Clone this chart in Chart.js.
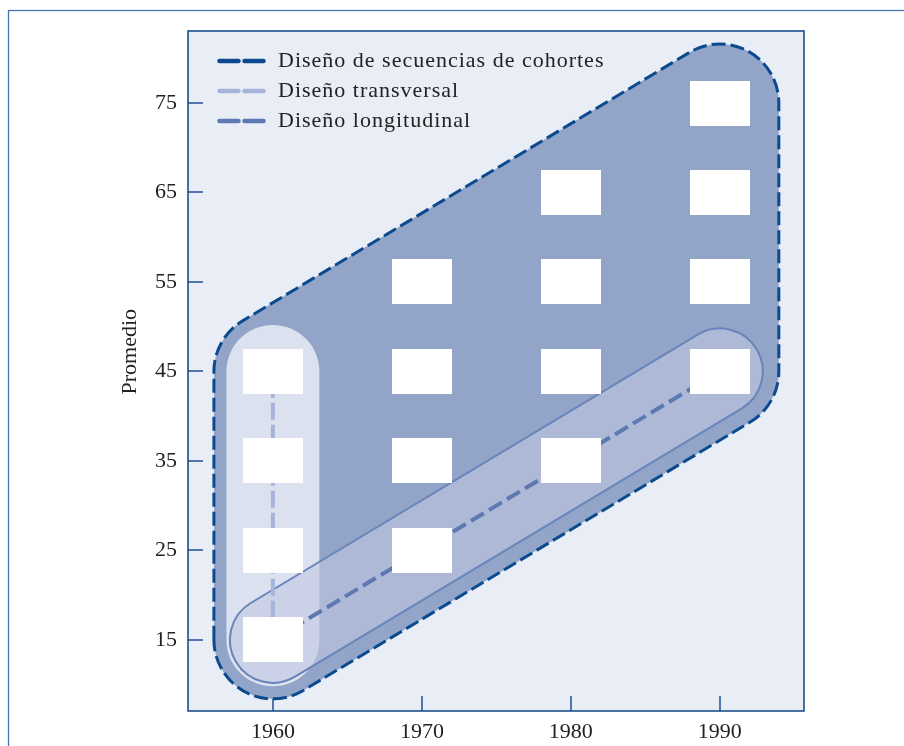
<!DOCTYPE html>
<html>
<head>
<meta charset="utf-8">
<script src="https://cdn.jsdelivr.net/npm/chart.js@4.4.0/dist/chart.umd.min.js"></script>
<style>
  html, body { margin: 0; padding: 0; background: #fff; }
</style>
</head>
<body>
<canvas id="cohortChart" width="904" height="746"></canvas>
<script>
// Datos del gráfico
const years = [1960, 1970, 1980, 1990];
const ageTicks = [15, 25, 35, 45, 55, 65, 75];
// edades medidas en cada año de medición (una fila por año)
const agesByYear = [
  [15, 25, 35, 45],
  [25, 35, 45, 55],
  [35, 45, 55, 65],
  [45, 55, 65, 75]
];
const designNames = ['Diseño de secuencias de cohortes', 'Diseño transversal', 'Diseño longitudinal'];
// esquinas (año, edad) de cada diseño
const sequenceCorners = [[1960, 15], [1960, 45], [1990, 75], [1990, 45]];
const transversalPoints = [[1960, 15], [1960, 45]];
const longitudinalPoints = [[1960, 15], [1990, 45]];

// Estilos
const serif = 'Liberation Serif';
const designColors = ['#0b4a8e', '#a7b4d8', '#5c79b2'];

const squares = [];
years.forEach((yr, i) => agesByYear[i].forEach(a => squares.push({ x: yr, y: a })));

// cuadro blanco para cada medición
const box = document.createElement('canvas');
box.width = 60;
box.height = 45;
const bctx = box.getContext('2d');
bctx.fillStyle = '#ffffff';
bctx.fillRect(0, 0, 60, 45);

// contorno redondeado alrededor de un polígono convexo (sentido horario en pantalla)
function roundedZone(ctx, pts, r) {
  const n = pts.length;
  const normals = [];
  for (let i = 0; i < n; i++) {
    const a = pts[i], b = pts[(i + 1) % n];
    const dx = b[0] - a[0], dy = b[1] - a[1];
    const len = Math.hypot(dx, dy);
    normals.push([dy / len, -dx / len]);
  }
  ctx.beginPath();
  for (let i = 0; i < n; i++) {
    const a = pts[i], b = pts[(i + 1) % n];
    const nm = normals[i], next = normals[(i + 1) % n];
    if (i === 0) ctx.moveTo(a[0] + nm[0] * r, a[1] + nm[1] * r);
    ctx.lineTo(b[0] + nm[0] * r, b[1] + nm[1] * r);
    const a0 = Math.atan2(nm[1], nm[0]);
    let a1 = Math.atan2(next[1], next[0]);
    while (a1 <= a0) a1 += 2 * Math.PI;
    ctx.arc(b[0], b[1], r, a0, a1);
  }
  ctx.closePath();
}

const zonesPlugin = {
  id: 'zones',
  beforeDraw(chart) {
    const { ctx, chartArea: ca } = chart;
    ctx.save();
    ctx.fillStyle = '#ffffff';
    ctx.fillRect(0, 0, chart.width, chart.height);
    ctx.strokeStyle = '#4376ab';
    ctx.lineWidth = 1.3;
    ctx.strokeRect(8.5, 10.5, 1200, 1200);
    ctx.fillStyle = '#e9eef6';
    ctx.fillRect(ca.left, ca.top, ca.right - ca.left, ca.bottom - ca.top);
    ctx.restore();
  },
  beforeDatasetsDraw(chart) {
    const { ctx, scales: { x, y } } = chart;
    const px = pts => pts.map(p => [x.getPixelForValue(p[0]), y.getPixelForValue(p[1])]);
    ctx.save();
    // diseño de secuencias de cohortes
    roundedZone(ctx, px(sequenceCorners), 59);
    ctx.fillStyle = '#92a5c9';
    ctx.fill();
    ctx.setLineDash([14, 5]);
    ctx.lineWidth = 3;
    ctx.strokeStyle = designColors[0];
    ctx.stroke();
    ctx.setLineDash([]);
    // diseño transversal
    roundedZone(ctx, px(transversalPoints), 46.5);
    ctx.fillStyle = '#dbe1ee';
    ctx.fill();
    // diseño longitudinal
    roundedZone(ctx, px(longitudinalPoints), 43);
    ctx.fillStyle = 'rgba(192, 198, 225, 0.6)';
    ctx.fill();
    ctx.lineWidth = 2;
    ctx.strokeStyle = '#6884ba';
    ctx.stroke();
    ctx.restore();
  },
  afterDraw(chart) {
    const { ctx, chartArea: ca } = chart;
    ctx.save();
    ctx.strokeStyle = '#1d4f8c';
    ctx.lineWidth = 1.6;
    ctx.strokeRect(ca.left, ca.top, ca.right - ca.left, ca.bottom - ca.top);
    // leyenda
    ctx.font = '22px "' + serif + '"';
    ctx.letterSpacing = '1px';
    ctx.textBaseline = 'middle';
    ctx.fillStyle = '#222';
    designNames.forEach((name, i) => {
      const yy = ca.top + 30 + i * 30;
      ctx.beginPath();
      ctx.setLineDash([19, 6]);
      ctx.lineCap = 'round';
      ctx.lineWidth = 4.5;
      ctx.strokeStyle = designColors[i];
      ctx.moveTo(ca.left + 31.5, yy);
      ctx.lineTo(ca.left + 75.5, yy);
      ctx.stroke();
      ctx.setLineDash([]);
      ctx.fillText(name, ca.left + 90, yy);
    });
    ctx.restore();
  }
};

const axisFont = { family: serif, size: 22 };

new Chart(document.getElementById('cohortChart'), {
  type: 'scatter',
  data: {
    datasets: [
      {
        label: 'Mediciones',
        data: squares,
        pointStyle: box,
        pointRadius: 30,
        pointHoverRadius: 30
      },
      {
        label: designNames[1],
        data: transversalPoints.map(p => ({ x: p[0], y: p[1] })),
        showLine: true,
        borderColor: designColors[1],
        borderWidth: 4,
        borderDash: [17, 5],
        pointRadius: 0
      },
      {
        label: designNames[2],
        data: longitudinalPoints.map(p => ({ x: p[0], y: p[1] })),
        showLine: true,
        borderColor: designColors[2],
        borderWidth: 4,
        borderDash: [15, 6],
        pointRadius: 0
      }
    ]
  },
  options: {
    responsive: false,
    animation: false,
    layout: { padding: { top: 31, right: 100, bottom: 0, left: 0 } },
    plugins: {
      legend: { display: false },
      tooltip: { enabled: false }
    },
    scales: {
      x: {
        type: 'linear',
        min: 1954.3,
        max: 1995.65,
        afterBuildTicks: s => { s.ticks = years.map(v => ({ value: v })); },
        afterFit: s => { s.height = 35; s.paddingLeft = 0; s.paddingRight = 0; },
        grid: { drawOnChartArea: false, tickLength: -15, color: '#4f77ad', lineWidth: 2 },
        border: { display: false },
        ticks: { padding: 23, color: '#222', font: axisFont, maxRotation: 0, callback: v => String(v) }
      },
      y: {
        min: 7.05,
        max: 83.05,
        afterBuildTicks: s => { s.ticks = ageTicks.map(v => ({ value: v })); },
        afterFit: s => { s.width = 188; s.paddingTop = 0; s.paddingBottom = 0; },
        grid: { drawOnChartArea: false, tickLength: -15, color: '#4f77ad', lineWidth: 2 },
        border: { display: false },
        ticks: { padding: 26, color: '#222', font: axisFont, callback: v => String(v) },
        title: {
          display: true,
          text: '       Promedio',
          color: '#222',
          font: axisFont,
          padding: { top: 117, bottom: 0 }
        }
      }
    }
  },
  plugins: [zonesPlugin]
});
</script>
</body>
</html>
